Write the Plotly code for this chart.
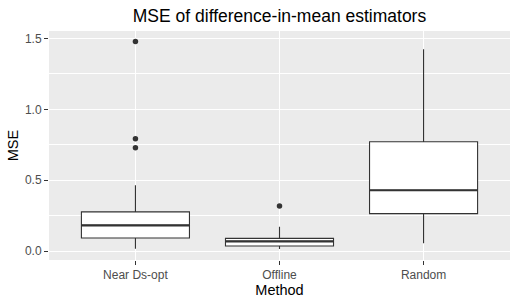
import plotly.graph_objects as go

methods = ["Near Ds-opt", "Offline", "Random"]
q1 = [0.092, 0.035, 0.264]
median = [0.181, 0.068, 0.429]
q3 = [0.276, 0.089, 0.771]
lower_whisker = [0.016, 0.014, 0.054]
upper_whisker = [0.464, 0.172, 1.425]
outlier_method = ["Near Ds-opt", "Near Ds-opt", "Near Ds-opt", "Offline"]
outlier_values = [1.479, 0.793, 0.729, 0.318]

y_ticks = [0.0, 0.5, 1.0, 1.5]

BOX_W = 0.75
LINE_C = "#333333"
pos = {m: i + 1 for i, m in enumerate(methods)}

fig = go.Figure()
for i, m in enumerate(methods):
    fig.add_trace(go.Box(
        x=[pos[m]], q1=[q1[i]], median=[median[i]], q3=[q3[i]],
        lowerfence=[lower_whisker[i]], upperfence=[upper_whisker[i]],
        width=BOX_W, fillcolor="white", line=dict(color=LINE_C, width=1.1),
        whiskerwidth=0, boxpoints=False, showlegend=False, hoverinfo="skip",
    ))
    fig.add_trace(go.Scatter(
        x=[pos[m] - BOX_W / 2, pos[m] + BOX_W / 2], y=[median[i], median[i]],
        mode="lines", line=dict(color=LINE_C, width=2.2), showlegend=False,
        hoverinfo="skip",
    ))

fig.add_trace(go.Scatter(
    x=[pos[m] for m in outlier_method], y=outlier_values, mode="markers",
    marker=dict(color=LINE_C, size=5.5), showlegend=False, hoverinfo="skip",
))

font = "Liberation Sans, Arial, sans-serif"
fig.update_layout(
    width=518, height=306,
    margin=dict(l=49, r=8, t=31, b=46),
    paper_bgcolor="white", plot_bgcolor="#EBEBEB",
    font=dict(family=font, color="black"),
    title=dict(text="MSE of difference-in-mean estimators", x=0.5, xref="paper",
               y=1 - 16 / 306, yref="container", yanchor="middle",
               xanchor="center", font=dict(size=17.5, color="black")),
    xaxis=dict(range=[0.4, 3.6], tickmode="array", tickvals=[1, 2, 3],
               ticktext=methods, showgrid=True, gridcolor="white", gridwidth=1.1,
               zeroline=False, ticks="outside", ticklen=4, tickcolor=LINE_C,
               tickwidth=1, tickfont=dict(size=12, color="#4D4D4D"),
               title=dict(text="Method", font=dict(size=14.5, color="black"),
                          standoff=2)),
    yaxis=dict(range=[-0.0635, 1.5535], tickmode="array", tickvals=y_ticks,
               tickformat=".1f", showgrid=True, gridcolor="white", gridwidth=1.1,
               zeroline=False, ticks="outside", ticklen=4, tickcolor=LINE_C,
               tickwidth=1, tickfont=dict(size=12, color="#4D4D4D"),
               minor=dict(dtick=0.25, tick0=0, showgrid=True, gridcolor="white",
                          gridwidth=0.6, ticks=""),
               title=dict(text="MSE", font=dict(size=14.5, color="black"),
                          standoff=2)),
)

fig.write_html("out.html")
